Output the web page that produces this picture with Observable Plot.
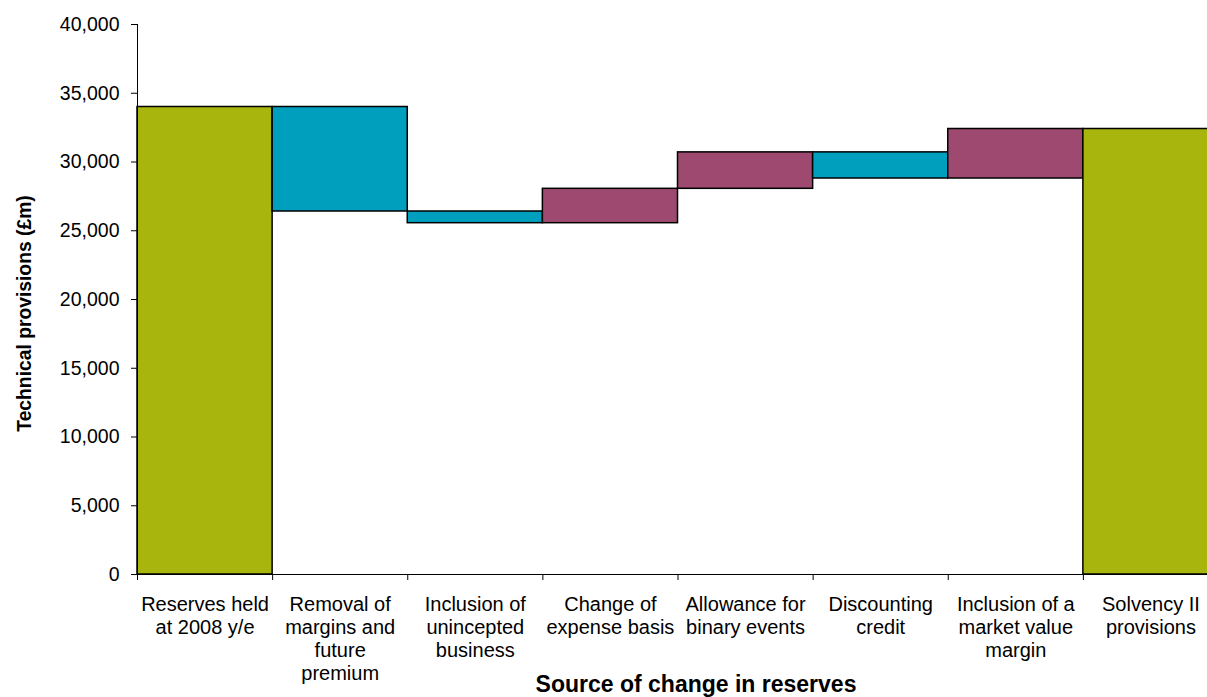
<!DOCTYPE html>
<html>
<head>
<meta charset="utf-8">
<script src="https://cdn.jsdelivr.net/npm/d3@7"></script>
<script src="https://cdn.jsdelivr.net/npm/@observablehq/plot@0.6"></script>
<style>
  html, body { margin: 0; padding: 0; background: #fff; overflow: hidden; }
  #chart svg { display: block; max-width: none !important; }
</style>
</head>
<body>
<div id="chart"></div>
<script>
// Categories (x-axis labels, with line breaks as in the reference)
const categories = [
  "Reserves held\nat 2008 y/e",
  "Removal of\nmargins and\nfuture\npremium",
  "Inclusion of\nunincepted\nbusiness",
  "Change of\nexpense basis",
  "Allowance for\nbinary events",
  "Discounting\ncredit",
  "Inclusion of a\nmarket value\nmargin",
  "Solvency II\nprovisions"
];
// Running level of technical provisions after each step (£m)
const levels = [34000, 26400, 25550, 28050, 30700, 28800, 32400, 32400];
// Bar kind: total, decrease or increase
const kinds = ["total", "decrease", "decrease", "increase", "increase", "decrease", "increase", "total"];
const kindColors = {total: "#A8B50D", decrease: "#009FBE", increase: "#9E4A70"};
const yTicks = [0, 5000, 10000, 15000, 20000, 25000, 30000, 35000, 40000];

const data = categories.map((c, i) => {
  const prev = i === 0 ? 0 : levels[i - 1];
  const start = kinds[i] === "total" ? 0 : prev;
  const end = levels[i];
  return {i, label: c, lo: Math.min(start, end), hi: Math.max(start, end), color: kindColors[kinds[i]]};
});

const font = "Liberation Sans, Arial, sans-serif";

const chart = Plot.plot({
  width: 1220,
  height: 697,
  marginLeft: 137,
  marginRight: 2,
  marginTop: 24,
  marginBottom: 123,
  style: {fontFamily: font, background: "#fff", color: "#000"},
  x: {type: "linear", domain: [0, categories.length], axis: null},
  y: {domain: [0, 40000], axis: null},
  color: {type: "identity"},
  marks: [
    Plot.rect(data, {x1: "i", x2: d => d.i + 1, y1: "lo", y2: "hi", fill: "color", stroke: "#000", strokeWidth: 1.5}),
    Plot.ruleX([0], {y1: 0, y2: 40000, stroke: "#000", strokeWidth: 1}),
    Plot.ruleY([0], {stroke: "#000", strokeWidth: 1}),
    Plot.axisY({ticks: yTicks, tickFormat: d3.format(","), tickSize: 6, tickPadding: 12, fontSize: 19.5, stroke: "#000", strokeOpacity: 1, label: null, fill: "#000"}),
    Plot.axisX({ticks: d3.range(0, categories.length + 1), tickSize: 6, tickFormat: () => "", stroke: "#000", strokeOpacity: 1, label: null}),
    Plot.text(data, {x: d => d.i + 0.5, y: 0, text: "label", dy: 20.5, lineAnchor: "top", fontSize: 20, lineHeight: 1.15, fill: "#000"}),
    Plot.text(["Source of change in reserves"], {x: categories.length / 2, y: 0, dx: 18, dy: 117.5, text: d => d, lineAnchor: "bottom", fontSize: 23, letterSpacing: 0.7, fontWeight: "bold", fill: "#000"}),
    Plot.text(["Technical provisions (£m)"], {frameAnchor: "left", dx: -113, rotate: -90, textAnchor: "middle", lineAnchor: "middle", dy: 14, text: d => d, fontSize: 19.3, fontWeight: "bold", fill: "#000"})
  ]
});
document.getElementById("chart").appendChild(chart);
</script>
</body>
</html>
